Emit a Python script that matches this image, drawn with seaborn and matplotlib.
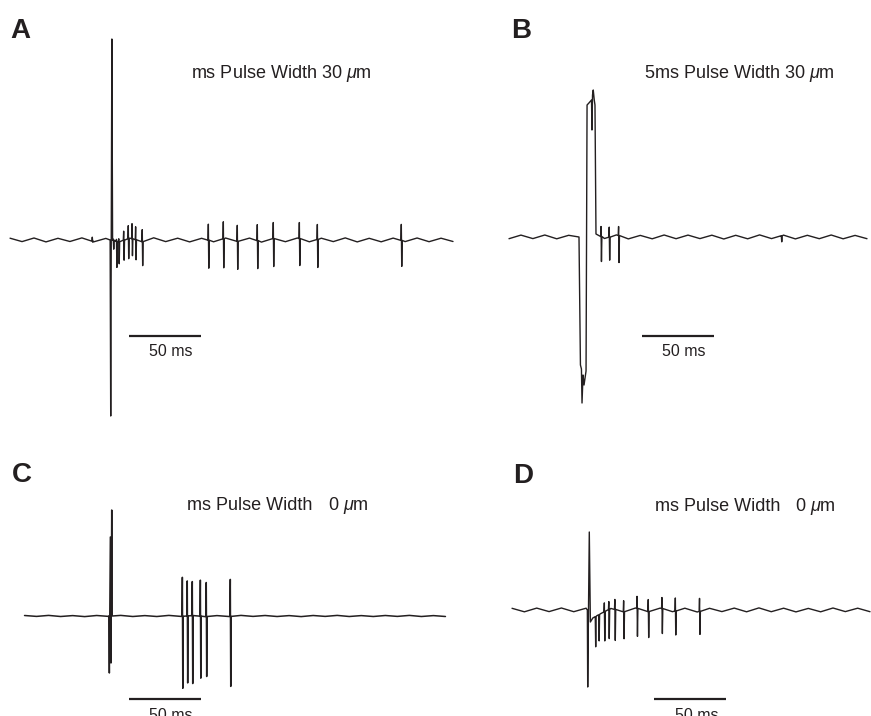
import numpy as np
import matplotlib
matplotlib.use("Agg")
import matplotlib.pyplot as plt
import seaborn as sns

# ---------------- data (time in ms relative to stimulus onset, amplitude in a.u.) ----------------
# Panel A : 1 ms pulse, 30 um
a_t_range = [-70.1, 237.5]
a_base = [1.8, -1.6, 2.0, -1.9, 1.7, -1.5, 2.1, -1.8, 1.6, -2.0,
          1.9, -1.7, 2.2, -1.6, 1.8, -1.9, 1.7, -1.8, 2.0, -1.5,
          1.9, -2.1, 1.6, -1.7, 2.0, -1.8, 1.8, -1.6, 2.1, -1.9,
          1.7, -1.8, 1.9, -1.6, 2.0, -1.7, 1.8, -1.5]
a_art_t = [-0.6, -0.2, 0.6, 1.1]
a_art_v = [0, -176, 201, 0]
a_spk_t = [-13.2, 1.4, 3.6, 5.2, 8.6, 11.8, 14.4, 16.9, 21.5,
           67.4, 77.8, 87.5, 101.4, 112.5, 130.6, 143.1, 201.4]
a_spk_up = [4, 1, 2, 3, 9, 13, 15, 13, 12, 16, 17, 16, 16, 16, 16, 15, 16]
a_spk_dn = [-1, -9, -26, -22, -20, -20, -17, -20, -24, -28, -29, -28, -28, -28, -27, -28, -26]

# Panel B : 5 ms pulse, 30 um
b_t_range = [-49.3, 199.3]
b_base = [-1.7, 1.9, -1.6, 2.0, -1.8, 1.7, -2.0, 1.8, -1.5, 2.1,
          -1.9, 1.6, -1.8, 2.0, -1.7, 1.9, -1.6, 1.8, -2.0, 1.7,
          -1.8, 2.1, -1.6, 1.9, -1.9, 1.7, -1.7, 2.0, -1.8, 1.6, -1.7]
b_art_t = [-0.7, 0.3, 1.0, 1.4, 2.1, 2.8, 3.5, 4.2, 4.9, 6.2, 8.0, 8.3, 8.7, 9.2, 9.9, 10.4, 11.1]
b_art_v = [0, -128, -132, -166, -138, -148, -141, -134, 132, 134, 137, 107, 142, 147, 137, 132, 3]
b_spk_t = [14.4, 20.1, 26.6, 139.6]
b_spk_up = [10, 10, 9, 0]
b_spk_dn = [-25, -23, -27, -6]

# Panel C : pulse, 0 um
c_t_range = [-59.7, 232.6]
c_base = [0.5, -0.4, 0.6, -0.5, 0.4, -0.6, 0.5, -0.4, 0.6, -0.5,
          0.4, -0.5, 0.6, -0.4, 0.5, -0.6, 0.4, -0.5, 0.6, -0.4,
          0.5, -0.5, 0.4, -0.6, 0.5, -0.4, 0.6, -0.5, 0.4, -0.5,
          0.5, -0.4, 0.6, -0.5, 0.4, -0.5]
c_art_t = [-1.2, -0.8, -0.1, 0.35, 0.85, 1.2]
c_art_v = [0, -57, 79, -47, 106, 0]
c_spk_t = [49.7, 53.1, 56.6, 62.2, 66.3, 83.0]
c_spk_up = [39, 35, 34, 36, 34, 37]
c_spk_dn = [-72, -67, -68, -62, -60, -70]

# Panel D : pulse, 0 um
d_t_range = [-53.1, 195.5]
d_base = [1.7, -1.8, 1.9, -1.6, 2.0, -1.7, 1.8, -1.9, 1.6, -1.8,
          2.0, -1.6, 1.9, -1.7, 1.8, -2.0, 1.7, -1.6, 1.9, -1.8,
          2.1, -1.7, 1.8, -1.9, 1.6, -1.8, 2.0, -1.6, 1.8, -1.7]
d_art_t = [-0.8, -0.55, 0.55, 1.3, 3.0, 5.5, 8.0, 12.0]
d_art_v = [0, -77, 78, -12, -8, -6, -4, -1]
d_spk_t = [4.5, 6.9, 10.8, 13.9, 18.1, 24.2, 33.5, 41.3, 50.8, 60.1, 76.9]
d_spk_up = [0, 0, 9, 8, 10, 11, 12, 12, 11, 13, 13]
d_spk_dn = [-30, -26, -29, -29, -31, -27, -28, -26, -25, -24, -23]

titles = ["ms Pulse Width 30 $\\mu$m", "5ms Pulse Width 30 $\\mu$m",
          "ms Pulse Width", "ms Pulse Width"]
title_tail = [None, None, "0 $\\mu$m", "0 $\\mu$m"]
panel_letters = ["A", "B", "C", "D"]
scale_len_ms = 50
scale_label = "50 ms"

# ---------------- style ----------------
sns.set_theme(style="white")
plt.rcParams["font.family"] = ["Liberation Sans", "DejaVu Sans"]
plt.rcParams["mathtext.fontset"] = "custom"
plt.rcParams["mathtext.rm"] = "Liberation Sans"
plt.rcParams["mathtext.it"] = "Liberation Sans:italic"
INK = "#231f20"

W, H = 871, 716
fig = plt.figure(figsize=(W / 100, H / 100), dpi=100)
fig.patch.set_facecolor("white")


def make_axes(box, stim_x, base_y, ppm=1.44):
    l, t, r, b = box
    ax = fig.add_axes([l / W, 1 - b / H, (r - l) / W, (b - t) / H])
    ax.set_xlim((l - stim_x) / ppm, (r - stim_x) / ppm)
    ax.set_ylim(base_y - b, base_y - t)
    ax.set_axis_off()
    return ax


def build_trace(t_range, base, art_t, art_v, spk_t, spk_up, spk_dn):
    bt = np.linspace(t_range[0], t_range[1], len(base))
    bv = np.asarray(base, float)
    keep = (bt < art_t[0]) | (bt > art_t[-1])
    ct = np.concatenate([bt[keep], art_t])
    cv = np.concatenate([bv[keep], art_v])
    o = np.argsort(ct, kind="stable")
    ct, cv = ct[o], cv[o]
    pts_t, pts_v = list(ct), list(cv)
    drop = np.zeros(len(ct), bool)
    for t, u, d in zip(spk_t, spk_up, spk_dn):
        lvl = np.interp(t, ct, cv)
        drop |= (ct > t - 0.05) & (ct < t + 0.8)
        pts_t += [t - 0.05, t + 0.2, t + 0.5, t + 0.8]
        pts_v += [lvl, lvl + u, lvl + d, lvl]
    pts_t = np.array(pts_t)
    pts_v = np.array(pts_v)
    mask = np.concatenate([~drop, np.ones(len(pts_t) - len(ct), bool)])
    pts_t, pts_v = pts_t[mask], pts_v[mask]
    o = np.argsort(pts_t, kind="stable")
    return pts_t[o], pts_v[o]


panels = [
    dict(box=(0, 0, 470, 440), stim_x=111, base_y=240,
         data=(a_t_range, a_base, a_art_t, a_art_v, a_spk_t, a_spk_up, a_spk_dn),
         bar=(12.5, -96), lw=1.0),
    dict(box=(470, 0, 871, 440), stim_x=580, base_y=237,
         data=(b_t_range, b_base, b_art_t, b_art_v, b_spk_t, b_spk_up, b_spk_dn),
         bar=(43.0, -99), lw=1.0),
    dict(box=(0, 440, 470, 716), stim_x=110.5, base_y=616,
         data=(c_t_range, c_base, c_art_t, c_art_v, c_spk_t, c_spk_up, c_spk_dn),
         bar=(12.8, -83.3), lw=1.1),
    dict(box=(470, 440, 871, 716), stim_x=588.5, base_y=610,
         data=(d_t_range, d_base, d_art_t, d_art_v, d_spk_t, d_spk_up, d_spk_dn),
         bar=(45.5, -89), lw=1.0),
]

for p in panels:
    ax = make_axes(p["box"], p["stim_x"], p["base_y"])
    tt, vv = build_trace(*p["data"])
    sns.lineplot(x=tt, y=vv, sort=False, estimator=None, ax=ax,
                 color=INK, linewidth=p["lw"])
    x0, yb = p["bar"]
    ax.plot([x0, x0 + scale_len_ms], [yb, yb], color=INK, lw=1.6,
            solid_capstyle="butt")
    ax.set_axis_off()


def ftext(x, y, s, **kw):
    fig.text(x / W, 1 - y / H, s, color=INK, va="baseline", **kw)


# panel letters
for (x, y), s in zip([(10.5, 38.3), (511, 38.3), (12, 481.5), (513, 483.3)], panel_letters):
    ftext(x, y, s, fontsize=20, fontweight="bold", ha="left")

# titles
TS = 13
ftext(191, 78, titles[0], fontsize=TS, ha="left")
ftext(644, 78, titles[1], fontsize=TS, ha="left")
ftext(186.5, 509.5, titles[2], fontsize=TS, ha="left")
ftext(328, 509.5, title_tail[2], fontsize=TS, ha="left")
ftext(654.5, 511, titles[3], fontsize=TS, ha="left")
ftext(795, 511, title_tail[3], fontsize=TS, ha="left")

# scale bar labels (the lower two are cut by the bottom edge, as in the original)
for x, y in [(171, 355.5), (684, 355.5), (171, 719.5), (696.5, 720)]:
    ftext(x, y, scale_label, fontsize=11.5, ha="center")

fig.savefig("out.png", dpi=100, facecolor="white")
